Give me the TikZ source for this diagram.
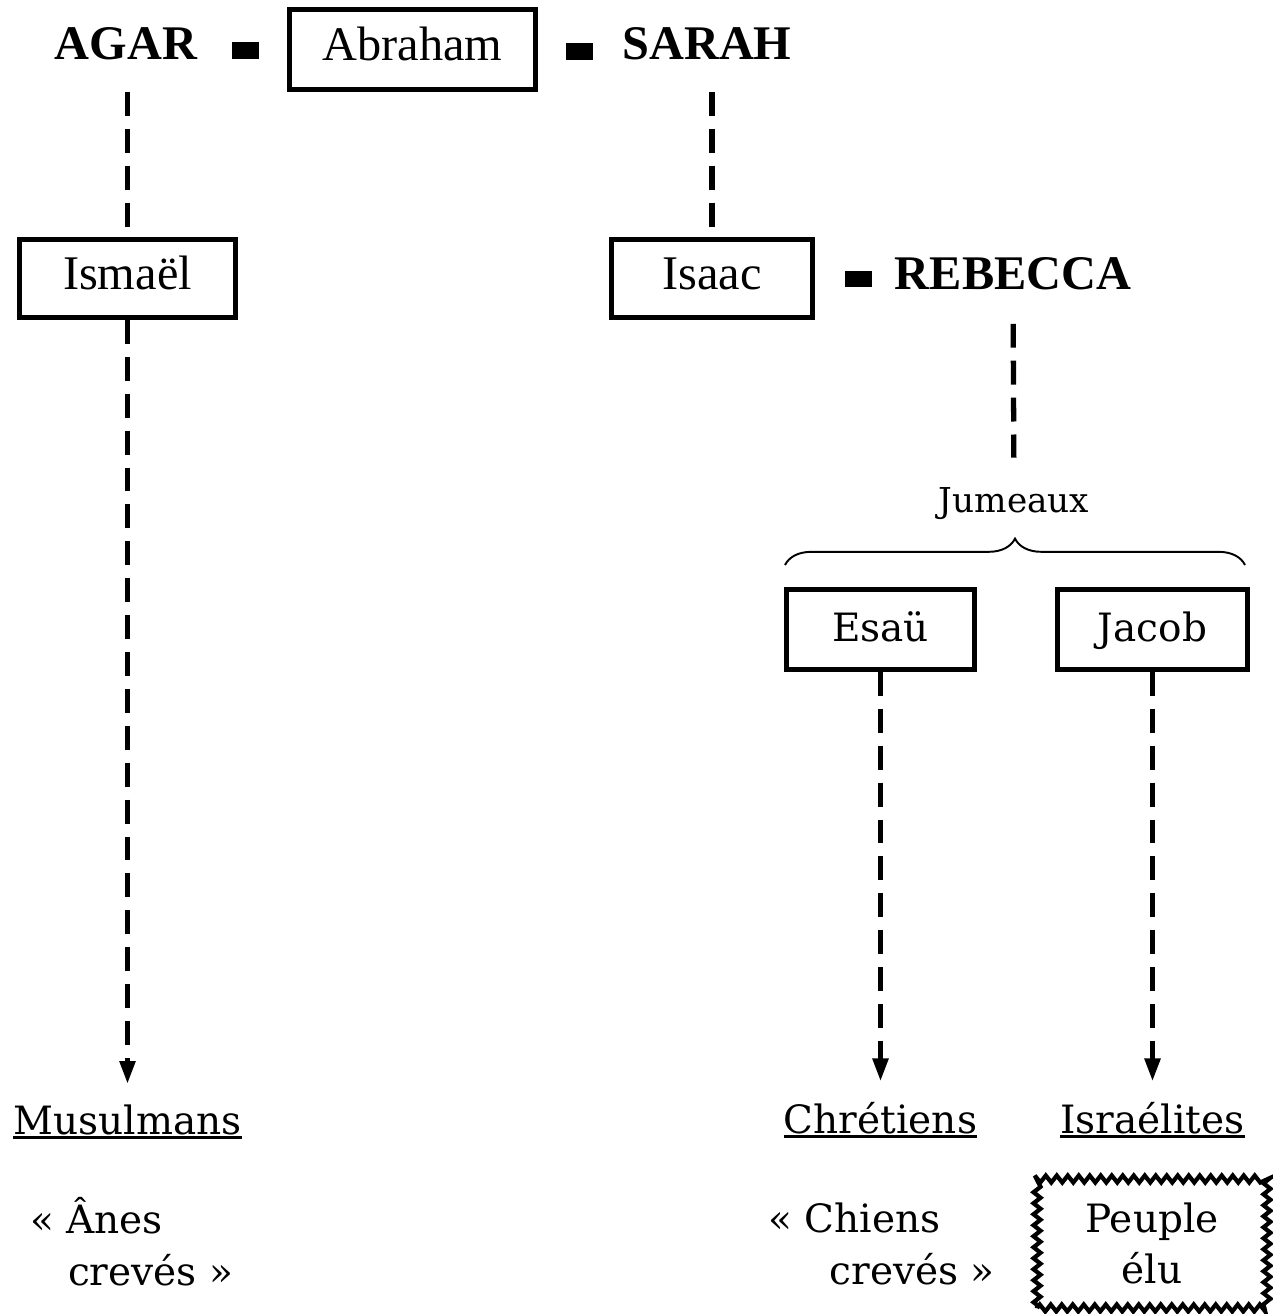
\documentclass[tikz,border=0pt]{standalone}
\usepackage{fontspec}
\setmainfont{DejaVu Serif}
\newfontfamily\timesfont{Liberation Serif}
\usetikzlibrary{arrows.meta,decorations.pathmorphing,decorations.pathreplacing}
\def\bigtimes{\timesfont\fontsize{27.5}{33}\selectfont}
\def\bigserif{\fontsize{22.2}{29.5}\selectfont}
\newcommand\ulabel[1]{\setbox0\hbox{#1}\rlap{\rule[-3pt]{\wd0}{1.7pt}}\box0}
\tikzset{person/.style={draw, line width=2.8pt, inner sep=0pt},
    elder/.style={person, font=\bigtimes, text height=19pt, text depth=6.5pt},
    twin/.style={person, font=\bigserif, text height=15pt, text depth=1pt},
    spouse/.style={font=\bigtimes\bfseries, inner sep=0pt, anchor=base},
    wed/.style={fill=black, inner sep=0pt, minimum width=0.54cm, minimum height=0.34cm},
    kin/.style={line width=3pt, dash pattern=on 13.6pt off 7.4pt},
    descent/.style={kin, -{Triangle[length=0.46cm,width=0.3cm]}, shorten >=0.4cm},
    folk/.style={font=\bigserif, inner sep=0pt, anchor=base}}

\begin{document}
\begin{tikzpicture}[x=0.02cm, y=-0.02cm]
    \useasboundingbox (0,0) rectangle (1272,1314);
    \node[spouse] (agar) at (126,60) {AGAR};
    \node[wed] (wedA) at (245.5,51) {};
    \node[elder, minimum width=4.92cm, minimum height=1.6cm] (abraham) at (412.5,49.5) {Abraham};
    \node[wed] (wedS) at (579,51.5) {};
    \node[spouse] (sarah) at (707,60) {SARAH};
    \node[elder, minimum width=4.32cm, minimum height=1.56cm] (ismael) at (127.5,278.5) {Ismaël};
    \node[elder, minimum width=4.02cm, minimum height=1.56cm] (isaac) at (712,278.5) {Isaac};
    \node[wed] (wedR) at (858,279) {};
    \node[spouse] (rebecca) at (1013,290) {REBECCA};
    \node[font=\fontsize{19.5}{23}\selectfont, inner sep=0pt, anchor=base] (jumeaux) at (1014,512) {Jumeaux};
    \coordinate (twinL) at (785,565);
    \coordinate (twinR) at (1245,565);
    \node[twin, minimum width=3.76cm, minimum height=1.6cm] (esau) at (880.5,629.5) {Esaü};
    \node[twin, minimum width=3.8cm, minimum height=1.6cm] (jacob) at (1152.5,629.5) {Jacob};
    \node[folk] (musulmans) at (127.5,1134) {\ulabel{Musulmans}};
    \node[folk] (chretiens) at (880.5,1133) {\ulabel{Chrétiens}};
    \node[folk] (israelites) at (1152.5,1133) {\ulabel{Israélites}};
    \node[folk, align=left, anchor=base west] (anes) at (30,1285) {«~Ânes\\\hspace*{21.5pt}crevés~»};
    \node[folk, align=left, anchor=base west] (chiens) at (768,1284) {«~Chiens\\\hspace*{35pt}crevés~»};
    \node[font=\bigserif, align=center, draw, line width=2.4pt, inner sep=0pt, decorate,
        decoration={zigzag, segment length=0.22cm, amplitude=0.07cm},
        minimum width=4.6cm, minimum height=2.58cm] (peuple) at (1152,1243.5) {Peuple\\élu};
    \draw[kin] (ismael |- abraham.south) -- (ismael.north);
    \draw[kin] (isaac |- abraham.south) -- (isaac.north);
    \draw[kin, shorten <=0.66cm, shorten >=0.58cm] (rebecca.south) -- (jumeaux.north);
    \draw[line width=1.1pt, decorate, decoration={brace, amplitude=15pt}] (twinL) -- (twinR);
    \draw[descent] (ismael.south) -- (musulmans.north);
    \draw[descent] (esau.south) -- (chretiens.north);
    \draw[descent] (jacob.south) -- (israelites.north);
    %\node at (current bounding box.center) {};
\end{tikzpicture}
\end{document}
